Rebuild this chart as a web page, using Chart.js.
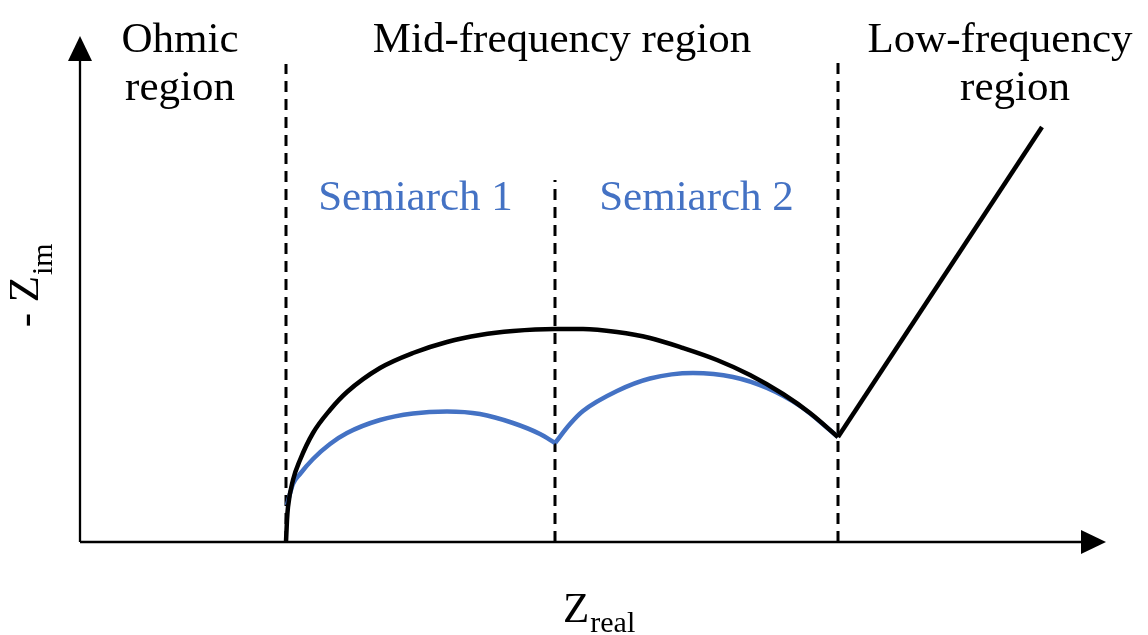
<!DOCTYPE html>
<html>
<head>
<meta charset="utf-8">
<script src="https://cdn.jsdelivr.net/npm/chart.js@4/dist/chart.umd.min.js"></script>
<style>
  html, body { margin: 0; padding: 0; background: #ffffff; }
  #wrap { width: 1148px; height: 635px; }
</style>
</head>
<body>
<div id="wrap"><canvas id="c" width="1148" height="635"></canvas></div>
<script>
// Schematic Nyquist plot (arbitrary units): Z_real (x) vs -Z_im (y)
const overallArcReal = [206, 207, 208, 213, 220, 233, 250, 267, 300, 333, 367, 400, 433, 475, 503, 537, 570, 603, 637, 670, 703, 730, 758];
const overallArcImag = [0, 22, 35, 62, 82, 109, 132, 150, 174, 189, 200, 207, 211, 213, 213, 210, 204, 194, 182, 167, 148, 129, 105];

const semiarch1Real = [207, 213, 220, 233, 250, 267, 300, 333, 367, 400, 433, 460, 475];
const semiarch1Imag = [37, 58, 68, 83, 98, 109, 122, 128.5, 130.5, 128, 119, 108, 99];

const semiarch2Real = [475, 490, 503, 537, 570, 613, 653, 687, 720, 758];
const semiarch2Imag = [99, 118, 131, 151, 163.5, 169, 165, 154, 136, 105];

const diffusionReal = [758, 962];
const diffusionImag = [105, 415];

// Region boundaries (Z_real) and the top of each dashed divider
const boundaryReal = [206, 475, 758];
const boundaryTop = [478, 362, 486];

const regionLabels = [["Ohmic", "region"], ["Mid-frequency region"], ["Low-frequency", "region"]];
const semiarchLabels = ["Semiarch 1", "Semiarch 2"];

const BLUE = '#4472C4';
const zip = (xs, ys) => xs.map((x, i) => ({ x: x, y: ys[i] }));

const datasets = [];
boundaryReal.forEach((bx, i) => {
  datasets.push({
    data: [{ x: bx, y: 0 }, { x: bx, y: boundaryTop[i] }],
    borderColor: '#000', borderWidth: 3, borderDash: [11, 7],
    pointRadius: 0, tension: 0, order: 3
  });
});
const curve = { pointRadius: 0, cubicInterpolationMode: 'monotone', borderWidth: 4.5 };
datasets.push(Object.assign({ data: zip(semiarch1Real, semiarch1Imag), borderColor: BLUE, order: 2 }, curve));
datasets.push(Object.assign({ data: zip(semiarch2Real, semiarch2Imag), borderColor: BLUE, order: 2 }, curve));
datasets.push(Object.assign({ data: zip(overallArcReal, overallArcImag), borderColor: '#000', order: 1 }, curve));
datasets.push({ data: zip(diffusionReal, diffusionImag), borderColor: '#000', borderWidth: 4.5, pointRadius: 0, tension: 0, order: 1 });

const SERIF = "'Liberation Serif', 'Times New Roman', serif";

const decor = {
  id: 'decor',
  afterDraw(chart) {
    const ctx = chart.ctx;
    const xs = chart.scales.x, ys = chart.scales.y;
    const x0 = xs.getPixelForValue(0), y0 = ys.getPixelForValue(0);
    const xEnd = xs.right, yEnd = ys.top;
    ctx.save();
    ctx.strokeStyle = '#000'; ctx.fillStyle = '#000'; ctx.lineWidth = 2.3;
    // axes
    ctx.beginPath(); ctx.moveTo(x0, y0); ctx.lineTo(xEnd - 24, y0); ctx.stroke();
    ctx.beginPath(); ctx.moveTo(x0, y0); ctx.lineTo(x0, yEnd + 24); ctx.stroke();
    // arrow heads
    ctx.beginPath(); ctx.moveTo(xEnd, y0); ctx.lineTo(xEnd - 25, y0 - 12); ctx.lineTo(xEnd - 25, y0 + 12); ctx.closePath(); ctx.fill();
    ctx.beginPath(); ctx.moveTo(x0, yEnd); ctx.lineTo(x0 - 12, yEnd + 25); ctx.lineTo(x0 + 12, yEnd + 25); ctx.closePath(); ctx.fill();

    // region labels
    ctx.textAlign = 'center'; ctx.textBaseline = 'alphabetic';
    ctx.font = '43px ' + SERIF;
    const regionCenters = [180, 562, 1000];
    regionLabels.forEach((lines, i) => {
      lines.forEach((t, j) => {
        const cx = (i === 2 && j === 1) ? 1015 : regionCenters[i];
        ctx.fillText(t, cx, 52 + j * 48);
      });
    });
    // semiarch labels
    ctx.fillStyle = BLUE;
    const sCenters = [(xs.getPixelForValue(boundaryReal[0]) + xs.getPixelForValue(boundaryReal[1])) / 2 - 5,
                      (xs.getPixelForValue(boundaryReal[1]) + xs.getPixelForValue(boundaryReal[2])) / 2];
    semiarchLabels.forEach((t, i) => ctx.fillText(t, sCenters[i], 210));

    // axis titles
    ctx.fillStyle = '#000';
    ctx.textAlign = 'left';
    ctx.font = '43px ' + SERIF;
    const zw = ctx.measureText('Z').width;
    const zx = 563;
    ctx.fillText('Z', zx, 622);
    ctx.font = '30px ' + SERIF;
    ctx.fillText('real', zx + zw + 1, 632);

    ctx.save();
    ctx.translate(38, 0);
    ctx.rotate(-Math.PI / 2);
    ctx.font = '43px ' + SERIF;
    ctx.textAlign = 'right';
    ctx.fillText('- Z', -276, 0);
    ctx.font = '30px ' + SERIF;
    ctx.textAlign = 'left';
    ctx.fillText('im', -275, 14);
    ctx.restore();
    ctx.restore();
  }
};

new Chart(document.getElementById('c'), {
  type: 'line',
  data: { datasets: datasets },
  options: {
    responsive: false,
    animation: false,
    events: [],
    layout: { padding: { left: 80, right: 42, top: 36, bottom: 93 } },
    scales: {
      x: { type: 'linear', display: false, min: 0, max: 1026 },
      y: { type: 'linear', display: false, min: 0, max: 506 }
    },
    elements: { line: { fill: false } },
    clip: false,
    plugins: { legend: { display: false }, tooltip: { enabled: false } }
  },
  plugins: [decor]
});
</script>
</body>
</html>
